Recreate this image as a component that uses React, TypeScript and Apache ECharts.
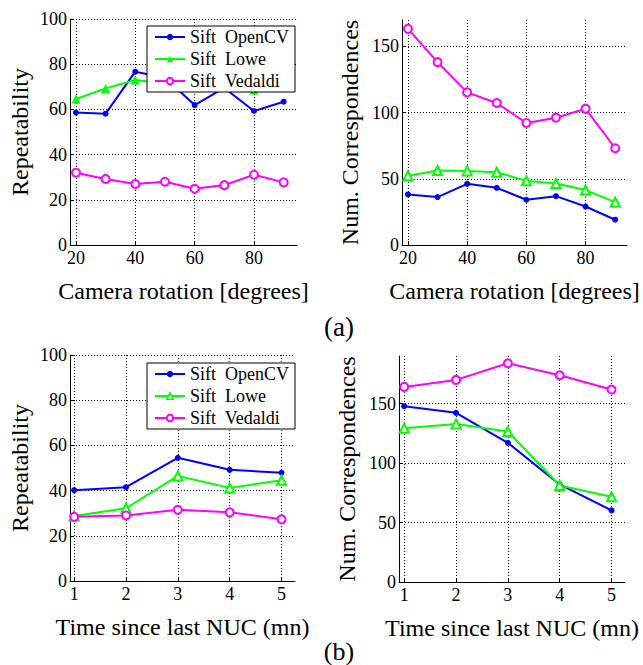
import React, { useEffect, useRef } from 'react';
import * as echarts from 'echarts';

const FONT = "'Liberation Serif', 'Times New Roman', serif";
const NAMES = ['Sift  OpenCV', 'Sift  Lowe', 'Sift  Vedaldi'];
const COLORS = ['#0000ff', '#00ff00', '#ff00ff'];

// (a) camera rotation
const rotation = [20, 30, 40, 50, 60, 70, 80, 90];
const rotTicks = [20, 40, 60, 80];
const rotRepOpenCV = [58.6, 58.1, 76.7, 74, 61.9, 69.5, 59.3, 63.4];
const rotRepLowe = [64.6, 69.3, 73, 71.5, 70.5, 71, 68.6, 71];
const rotRepVedaldi = [32, 29.2, 27, 28, 24.9, 26.5, 31.1, 27.7];
const rotCorOpenCV = [38.2, 36.2, 46.2, 43.2, 34.2, 36.9, 29.1, 19.1];
const rotCorLowe = [52.3, 56.3, 56, 55, 48.5, 46.5, 41.5, 32.4];
const rotCorVedaldi = [163.3, 138.2, 115.3, 107.3, 92.2, 96.2, 103, 73.1];

// (b) time since last NUC
const nucTime = [1, 2, 3, 4, 5];
const nucTicks = [1, 2, 3, 4, 5];
const nucRepOpenCV = [40.2, 41.5, 54.5, 49.2, 47.9];
const nucRepLowe = [28.8, 32.2, 46.5, 41.2, 44.6];
const nucRepVedaldi = [28.4, 29, 31.5, 30.4, 27.3];
const nucCorOpenCV = [147.8, 142.2, 117, 82, 60.2];
const nucCorLowe = [129.3, 132.9, 126.5, 81.2, 71.6];
const nucCorVedaldi = [164, 169.9, 183.9, 173.8, 161.8];

const repTicks = [0, 20, 40, 60, 80, 100];
const corTicksA = [0, 50, 100, 150];
const corTicksB = [0, 50, 100, 150];

function xAxis(gridIndex: number, min: number, max: number, ticks: number[], name: string) {
  return {
    type: 'value', gridIndex, min, max,
    name, nameLocation: 'middle', nameGap: 34,
    nameTextStyle: { fontFamily: FONT, fontSize: 24, color: '#000' },
    axisLine: { show: true, onZero: false, lineStyle: { color: '#000', width: 1 } },
    axisTick: { show: true, inside: true, length: 4, customValues: ticks, lineStyle: { color: '#000' } },
    axisLabel: { customValues: ticks, fontFamily: FONT, fontSize: 18, color: '#000', margin: 4 },
    splitLine: { show: true, lineStyle: { color: '#000', type: [1, 2], width: 1 } },
  };
}

function yAxis(gridIndex: number, min: number, max: number, ticks: number[], name: string, gap: number) {
  return {
    type: 'value', gridIndex, min, max,
    name, nameLocation: 'middle', nameGap: gap,
    nameTextStyle: { fontFamily: FONT, fontSize: 24, color: '#000' },
    axisLine: { show: true, onZero: false, lineStyle: { color: '#000', width: 1 } },
    axisTick: { show: true, inside: true, length: 4, customValues: ticks, lineStyle: { color: '#000' } },
    axisLabel: { customValues: ticks, fontFamily: FONT, fontSize: 18, color: '#000', margin: 3 },
    splitLine: { show: true, lineStyle: { color: '#000', type: [1, 2], width: 1 } },
  };
}

function series(idx: number, xs: number[], ys: number[], k: number, hollowLowe: boolean) {
  const symbols = ['circle', hollowLowe ? 'emptyTriangle' : 'triangle', 'emptyCircle'];
  const sizes = [6, 9, 8];
  return {
    type: 'line', name: NAMES[k], xAxisIndex: idx, yAxisIndex: idx,
    data: xs.map((x, i) => [x, ys[i]]),
    symbol: symbols[k], symbolSize: sizes[k], showSymbol: true,
    lineStyle: { color: COLORS[k], width: 2 },
    itemStyle: { color: COLORS[k], borderWidth: k === 0 ? 0 : 1.5 },
    emphasis: { disabled: true },
  };
}

function legend(left: number, top: number, hollowLowe: boolean) {
  const data: any[] = [
    { name: NAMES[0] },
    hollowLowe
      ? { name: NAMES[1], itemStyle: { color: '#fff', borderColor: COLORS[1], borderWidth: 1.5 } }
      : { name: NAMES[1] },
    { name: NAMES[2] },
  ];
  return {
    left, top, orient: 'vertical', data,
    backgroundColor: '#fff', borderColor: '#000', borderWidth: 1,
    padding: [2, 6, 2, 7], itemWidth: 30, itemHeight: 8, itemGap: 4,
    textStyle: { fontFamily: FONT, fontSize: 18, color: '#000' },
    selectedMode: false,
  };
}

export default function App() {
  const ref = useRef<HTMLDivElement>(null);
  useEffect(() => {
    if (!ref.current) return;
    const chart = echarts.init(ref.current, null, { renderer: 'svg' });
    chart.setOption({
      animation: false,
      backgroundColor: '#fff',
      grid: [
        { left: 70, top: 19, width: 227, height: 226 },
        { left: 402, top: 20, width: 225, height: 225 },
        { left: 70, top: 355, width: 225, height: 226 },
        { left: 399, top: 356, width: 226, height: 226 },
      ],
      xAxis: [
        xAxis(0, 18, 94.5, rotTicks, 'Camera rotation [degrees]'),
        xAxis(1, 18, 94, rotTicks, 'Camera rotation [degrees]'),
        xAxis(2, 0.92, 5.26, nucTicks, 'Time since last NUC (mn)'),
        xAxis(3, 0.9, 5.26, nucTicks, 'Time since last NUC (mn)'),
      ],
      yAxis: [
        yAxis(0, 0, 100, repTicks, 'Repeatability', 38),
        yAxis(1, 0, 170, corTicksA, 'Num. Correspondences', 40),
        yAxis(2, 0, 100, repTicks, 'Repeatability', 38),
        yAxis(3, 0, 190, corTicksB, 'Num. Correspondences', 40),
      ],
      legend: [legend(147, 26, false), legend(147, 363, true)],
      series: [
        series(0, rotation, rotRepOpenCV, 0, false),
        series(0, rotation, rotRepLowe, 1, false),
        series(0, rotation, rotRepVedaldi, 2, false),
        series(1, rotation, rotCorOpenCV, 0, true),
        series(1, rotation, rotCorLowe, 1, true),
        series(1, rotation, rotCorVedaldi, 2, true),
        series(2, nucTime, nucRepOpenCV, 0, true),
        series(2, nucTime, nucRepLowe, 1, true),
        series(2, nucTime, nucRepVedaldi, 2, true),
        series(3, nucTime, nucCorOpenCV, 0, true),
        series(3, nucTime, nucCorLowe, 1, true),
        series(3, nucTime, nucCorVedaldi, 2, true),
      ],
      graphic: [
        { type: 'text', x: 339, y: 327, style: { text: '(a)', fontFamily: FONT, fontSize: 27, fill: '#000', align: 'center', verticalAlign: 'middle' } },
        { type: 'text', x: 339, y: 651, style: { text: '(b)', fontFamily: FONT, fontSize: 26, fill: '#000', align: 'center', verticalAlign: 'middle' } },
      ],
    });
    return () => chart.dispose();
  }, []);
  return <div ref={ref} style={{ position: 'absolute', left: 0, top: 0, width: 643, height: 665 }} />;
}
